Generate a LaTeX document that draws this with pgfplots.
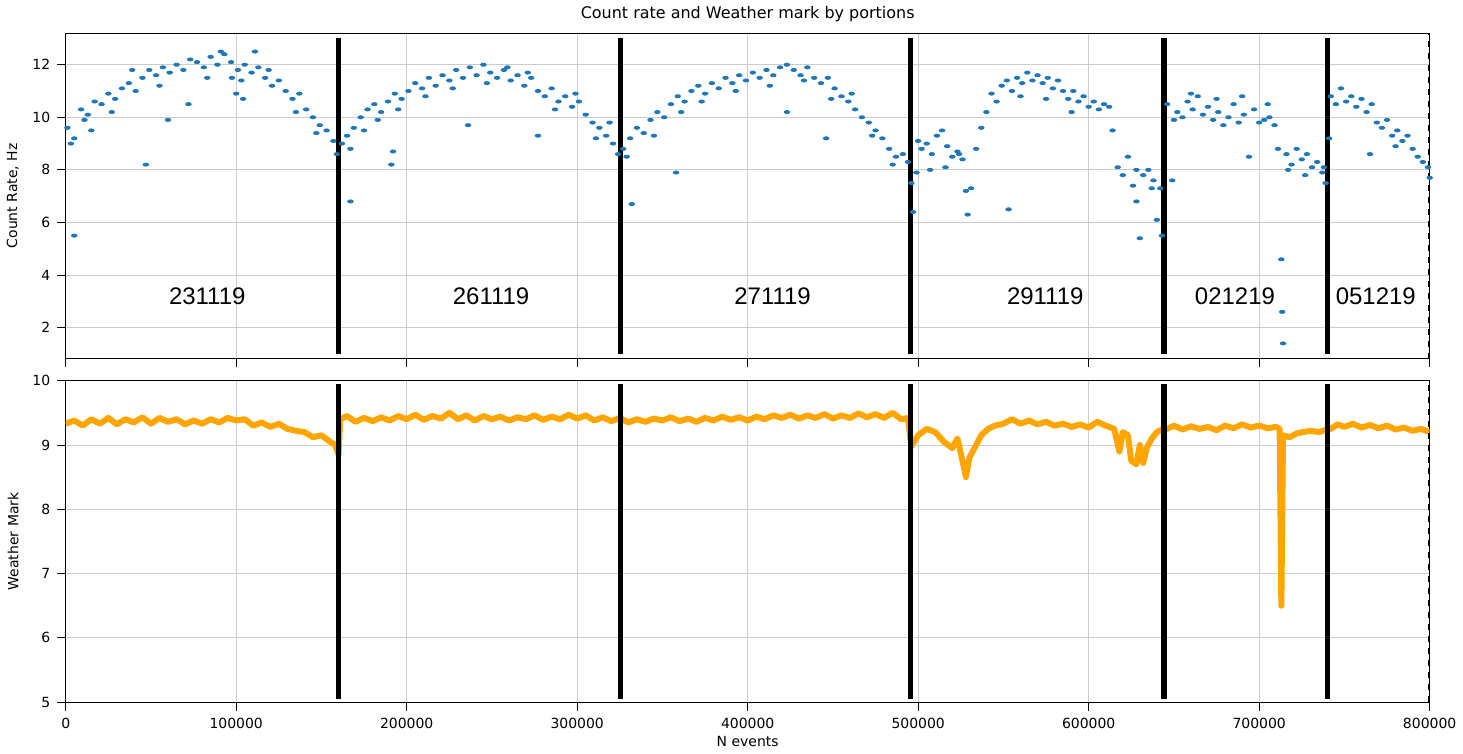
\documentclass[border=0pt]{standalone}
\usepackage{pgfplots}
\pgfplotsset{compat=1.18}
\usepackage{fontspec}
\setmainfont{DejaVu Sans}
\newfontfamily\labfont{Liberation Sans}
\definecolor{mblue}{HTML}{1F77B4}
\definecolor{morange}{HTML}{FFA500}
\begin{document}
\begin{tikzpicture}
\pgfplotsset{
  every axis/.append style={
    scale only axis, width=683pt, xmin=0, xmax=800000,
    font=\fontsize{7}{8}\selectfont,
    /pgf/number format/assume math mode=true,
    grid=major, grid style={gray!40, line width=0.4pt},
    xtick={0,100000,...,800000}, scaled x ticks=false,
    xtick pos=bottom, ytick pos=left,
    xticklabel style={/pgf/number format/set thousands separator={}, /pgf/number format/fixed},
    tick align=outside, tick style={black, line width=0.4pt},
    axis line style={line width=0.5pt},
  }
}
\begin{axis}[name=top, height=163pt, ymin=0.82, ymax=13.2, ytick={2,4,...,12},
  xticklabels={}, ylabel={Count Rate, Hz},
  title={Count rate and Weather mark by portions}, title style={font=\fontsize{8}{9}\selectfont, yshift=-4pt}]
\addplot[only marks, mark=*, mark size=1pt, mblue, mark options={draw=none, xscale=1.4, yscale=0.8}] coordinates {
(1000,9.6)(5000,9.2)(9000,10.3)(13000,10.1)(17000,10.6)(21000,10.5)(25000,10.9)(29000,10.7)(33000,11.1)(37000,11.3)(41000,11.0)(45000,11.5)(49000,11.8)(53000,11.6)(57000,11.9)(61000,11.7)(65000,12.0)(69000,11.8)(73000,12.2)(77000,12.1)(81000,11.9)(85000,12.3)(89000,12.0)(93000,12.4)(97000,12.1)(101000,11.8)(105000,12.0)(109000,11.7)(113000,11.9)(117000,11.5)(121000,11.2)(125000,11.4)(129000,11.0)(133000,10.7)(137000,10.9)(141000,10.3)(145000,10.0)(149000,9.7)(153000,9.5)(157000,9.1)
(3000,9.0)(11000,9.9)(15000,9.5)(27000,10.2)(39000,11.8)(55000,11.2)(83000,11.5)(103000,11.4)(119000,11.8)(135000,10.2)(147000,9.4)(159000,8.6)(5000,5.5)(47000,8.2)(60000,9.9)(72000,10.5)(97500,11.5)(100000,10.9)(104000,10.7)(91000,12.5)(111000,12.5)
(162000,9.0)(165000,9.3)(169000,9.6)(173000,10.0)(177000,10.3)(181000,10.5)(185000,10.2)(189000,10.6)(193000,10.9)(197000,10.7)(201000,11.0)(205000,11.3)(209000,11.1)(213000,11.5)(217000,11.2)(221000,11.6)(225000,11.4)(229000,11.8)(233000,11.5)(237000,11.9)(241000,11.6)(245000,12.0)(249000,11.7)(253000,11.5)(257000,11.8)(261000,11.4)(265000,11.6)(269000,11.2)(273000,11.5)(277000,11.0)(281000,10.8)(285000,11.1)(289000,10.6)(293000,10.8)(297000,10.4)(301000,10.6)(305000,10.1)(309000,9.8)(313000,9.6)(317000,9.3)(321000,9.0)(324000,8.6)
(167000,8.8)(175000,9.5)(183000,9.9)(195000,10.3)(211000,10.8)(227000,11.1)(247000,11.3)(259000,11.9)(271000,11.7)(287000,10.3)(299000,10.9)(311000,9.2)(319000,9.8)(167000,6.8)(191000,8.2)(192000,8.7)(236000,9.7)(277000,9.3)
(327000,8.8)(331000,9.2)(335000,9.6)(339000,9.4)(343000,9.9)(347000,10.2)(351000,10.0)(355000,10.5)(359000,10.8)(363000,10.6)(367000,11.0)(371000,11.2)(375000,10.9)(379000,11.3)(383000,11.1)(387000,11.5)(391000,11.3)(395000,11.6)(399000,11.4)(403000,11.7)(407000,11.5)(411000,11.8)(415000,11.6)(419000,11.9)(423000,12.0)(427000,11.8)(431000,11.6)(435000,11.9)(439000,11.5)(443000,11.3)(447000,11.5)(451000,11.1)(455000,10.8)(459000,10.6)(463000,10.3)(467000,10.0)(471000,9.8)(475000,9.5)(479000,9.2)(483000,8.8)(487000,8.5)(491000,8.6)(494000,8.3)
(329000,8.5)(345000,9.3)(361000,10.2)(373000,10.6)(393000,11.0)(413000,11.2)(433000,11.4)(449000,10.7)(461000,10.9)(473000,9.3)(485000,8.2)(332000,6.7)(358000,7.9)(423000,10.2)(446000,9.2)
(496000,7.5)(497000,6.4)(499000,7.9)(502000,8.8)(505000,9.0)(508000,8.6)(511000,9.3)(514000,9.5)(517000,8.9)(520000,8.5)(523000,8.7)(526000,8.4)(528000,7.2)(529000,6.3)(531000,7.3)(534000,8.8)(537000,9.6)(540000,10.2)(543000,10.9)(546000,10.6)(549000,11.2)(552000,11.4)(555000,11.0)(558000,11.5)(561000,11.3)(564000,11.7)(567000,11.4)(570000,11.6)(573000,11.3)(576000,11.5)(579000,11.1)(582000,11.4)(585000,11.0)(588000,10.7)(591000,11.0)(594000,10.6)(597000,10.8)(600000,10.4)(603000,10.6)(606000,10.3)(609000,10.5)(612000,10.4)(614000,9.5)(617000,8.1)(620000,7.8)(623000,8.5)(626000,7.4)(628000,6.8)(630000,5.4)(632000,7.8)(635000,8.0)(638000,7.6)(640000,6.1)(642000,7.3)(643000,5.5)
(500000,9.1)(507000,8.0)(516000,8.1)(524000,8.6)(553000,6.5)(560000,10.8)(575000,10.7)(590000,10.2)(628000,8.0)(637000,7.3)
(646000,10.5)(649000,7.6)(652000,10.2)(655000,10.0)(658000,10.6)(661000,10.3)(664000,10.8)(667000,10.1)(670000,10.4)(673000,9.9)(676000,10.2)(679000,9.7)(682000,10.0)(685000,10.5)(688000,9.8)(691000,10.1)(694000,8.5)(697000,10.3)(700000,9.8)(703000,9.9)(706000,10.0)(709000,9.7)(711000,8.8)(713000,4.6)(713500,2.6)(714000,1.4)(716000,8.6)(719000,8.2)(722000,8.8)(725000,8.4)(728000,8.6)(731000,8.1)(734000,8.3)(737000,7.9)(739000,7.5)
(650000,9.9)(660000,10.9)(675000,10.7)(690000,10.8)(705000,10.5)(717000,8.0)(727000,7.8)(738000,8.1)
(742000,10.8)(745000,10.5)(748000,11.1)(751000,10.6)(754000,10.8)(757000,10.4)(760000,10.7)(763000,10.2)(766000,10.5)(769000,9.8)(772000,9.6)(775000,9.9)(778000,9.3)(781000,9.5)(784000,9.1)(787000,9.3)(790000,8.8)(793000,8.5)(796000,8.3)(799000,8.1)(800000,7.7)(741000,9.2)(765000,8.6)(780000,8.9)
};
\foreach \xv in {160000,325500,495500,644200,740300}{
  \edef\tmp{\noexpand\addplot[black, line width=2.6pt] coordinates {(\xv,1.0) (\xv,13.0)};}\tmp
}
\addplot[black, dashed, line width=0.6pt] coordinates {(799300,0.82) (799300,13.2)};
\foreach \xv/\lab in {83000/231119,249500/261119,414600/271119,574500/291119,685800/021219,768400/051219}{
  \edef\tmp{\noexpand\node[font=\noexpand\labfont\noexpand\fontsize{12}{14}\noexpand\selectfont] at (axis cs:\xv,3.2) {\lab};}\tmp
}
\end{axis}
\begin{axis}[at={(top.south west)}, anchor=north west, yshift=-11pt, height=161pt,
  ymin=5, ymax=10, ytick={5,6,...,10}, xlabel={N events}, ylabel={Weather Mark},
  xlabel style={yshift=3pt}]
\addplot[morange, line width=3pt, line join=round] coordinates {
(0,9.33)(5000,9.38)(10000,9.30)(15000,9.40)(20000,9.33)(25000,9.42)(30000,9.32)(35000,9.40)(40000,9.35)(45000,9.43)(50000,9.33)(55000,9.42)(60000,9.36)(65000,9.40)(70000,9.32)(75000,9.38)(80000,9.33)(85000,9.40)(90000,9.35)(95000,9.42)(100000,9.38)(105000,9.40)(110000,9.30)(115000,9.35)(120000,9.28)(125000,9.33)(130000,9.25)(135000,9.22)(140000,9.20)(145000,9.12)(150000,9.15)(155000,9.05)(158000,9.00)(160000,8.85)
(161000,9.40)(165000,9.45)(170000,9.36)(175000,9.42)(180000,9.37)(185000,9.43)(190000,9.38)(195000,9.45)(200000,9.40)(205000,9.47)(210000,9.39)(215000,9.45)(220000,9.41)(225000,9.50)(230000,9.40)(235000,9.46)(240000,9.38)(245000,9.45)(250000,9.40)(255000,9.44)(260000,9.38)(265000,9.43)(270000,9.40)(275000,9.46)(280000,9.39)(285000,9.44)(290000,9.40)(295000,9.47)(300000,9.41)(305000,9.46)(310000,9.38)(315000,9.43)(320000,9.37)(325000,9.42)
(330000,9.35)(335000,9.40)(340000,9.36)(345000,9.41)(350000,9.38)(355000,9.43)(360000,9.37)(365000,9.41)(370000,9.36)(375000,9.42)(380000,9.38)(385000,9.44)(390000,9.39)(395000,9.43)(400000,9.38)(405000,9.44)(410000,9.40)(415000,9.46)(420000,9.42)(425000,9.47)(430000,9.41)(435000,9.46)(440000,9.42)(445000,9.48)(450000,9.41)(455000,9.46)(460000,9.42)(465000,9.49)(470000,9.43)(475000,9.48)(480000,9.42)(485000,9.50)(490000,9.40)(494000,9.42)
(496000,8.98)(500000,9.15)(505000,9.25)(510000,9.20)(515000,9.05)(520000,8.95)(523000,9.10)(526000,8.75)(528000,8.50)(530000,8.80)(533000,8.95)(537000,9.15)(541000,9.25)(545000,9.30)(550000,9.33)(555000,9.40)(560000,9.33)(565000,9.38)(570000,9.32)(575000,9.36)(580000,9.30)(585000,9.33)(590000,9.28)(595000,9.32)(600000,9.27)(605000,9.36)(610000,9.30)(615000,9.25)(618000,8.90)(620000,9.20)(623000,9.15)(625000,8.75)(628000,8.70)(630000,9.00)(632000,8.72)(634000,8.95)(637000,9.10)(640000,9.20)(644000,9.25)
(646000,9.25)(650000,9.30)(655000,9.24)(660000,9.29)(665000,9.25)(670000,9.28)(675000,9.23)(680000,9.30)(685000,9.26)(690000,9.32)(695000,9.27)(700000,9.30)(705000,9.26)(710000,9.28)(712000,9.25)(713000,6.5)(714000,9.15)(718000,9.12)(722000,9.18)(726000,9.20)(730000,9.22)(735000,9.20)(740000,9.24)
(742000,9.25)(746000,9.32)(750000,9.28)(755000,9.33)(760000,9.27)(765000,9.31)(770000,9.26)(775000,9.30)(780000,9.24)(785000,9.27)(790000,9.22)(795000,9.25)(800000,9.20)
};
\foreach \xv in {160000,325500,495500,644200,740300}{
  \edef\tmp{\noexpand\addplot[black, line width=2.6pt] coordinates {(\xv,5.05) (\xv,9.95)};}\tmp
}
\addplot[black, dashed, line width=0.6pt] coordinates {(799300,5) (799300,10)};
\end{axis}
\end{tikzpicture}
\end{document}
